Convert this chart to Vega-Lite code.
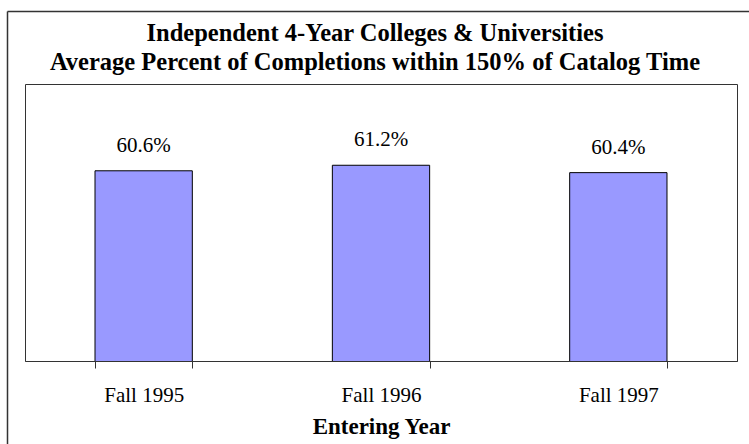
{
  "$schema": "https://vega.github.io/schema/vega-lite/v6.json",
  "width": 712,
  "height": 277,
  "autosize": {"type": "none"},
  "padding": {"left": 25, "top": 84, "right": 12, "bottom": 83},
  "background": "white",
  "title": {
    "text": ["Independent 4-Year Colleges & Universities", "Average Percent of Completions within 150% of Catalog Time"],
    "font": "Liberation Serif",
    "fontSize": 24.5,
    "fontWeight": "bold",
    "color": "black",
    "anchor": "middle",
    "frame": "group",
    "lineHeight": 29,
    "offset": -64,
    "dx": -6
  },
  "data": {
    "values": [
      {"year": "Fall 1995", "pct": 0.606},
      {"year": "Fall 1996", "pct": 0.612},
      {"year": "Fall 1997", "pct": 0.604}
    ]
  },
  "layer": [
    {
      "layer": [
        {
          "mark": {"type": "bar", "fill": "#9999ff", "stroke": "black", "strokeWidth": 1, "clip": true},
          "encoding": {
            "x": {
              "field": "year",
              "type": "nominal",
              "sort": null,
              "scale": {"paddingInner": 0.59, "paddingOuter": 0.295},
              "axis": {
                "title": "Entering Year",
                "titleFont": "Liberation Serif",
                "titleFontSize": 23,
                "titleFontWeight": "bold",
                "titleColor": "black",
                "titlePadding": 10,
                "labelFont": "Liberation Serif",
                "labelFontSize": 21,
                "labelColor": "black",
                "labelAngle": 0,
                "labelPadding": 16,
                "tickBand": "extent",
                "tickSize": 7,
                "tickColor": "#333333",
                "domainColor": "#333333",
                "grid": false
              }
            },
            "y": {
              "field": "pct",
              "type": "quantitative",
              "scale": {"domain": [0.4, 0.7], "nice": false, "zero": false},
              "axis": null
            }
          }
        },
        {
          "mark": {"type": "text", "font": "Liberation Serif", "fontSize": 21, "color": "black", "baseline": "alphabetic", "dy": -19},
          "encoding": {
            "x": {"field": "year", "type": "nominal", "sort": null},
            "y": {"field": "pct", "type": "quantitative"},
            "text": {"field": "pct", "type": "quantitative", "format": ".1%"}
          }
        }
      ]
    },
    {
      "mark": {"type": "point", "opacity": 0},
      "encoding": {
        "x": {
          "field": "pct",
          "type": "quantitative",
          "scale": {"range": [-18, 800]},
          "axis": {"orient": "top", "offset": 73, "labels": false, "ticks": false, "title": null, "grid": false, "domainColor": "#333333", "domainWidth": 1.5}
        },
        "y": {
          "field": "pct",
          "type": "quantitative",
          "scale": {"range": [400, -73]},
          "axis": {"orient": "left", "offset": 18, "labels": false, "ticks": false, "title": null, "grid": false, "domainColor": "#333333", "domainWidth": 1.5}
        }
      }
    }
  ],
  "resolve": {"scale": {"x": "independent", "y": "independent"}},
  "config": {
    "view": {"stroke": "#333333", "strokeWidth": 1}
  }
}
